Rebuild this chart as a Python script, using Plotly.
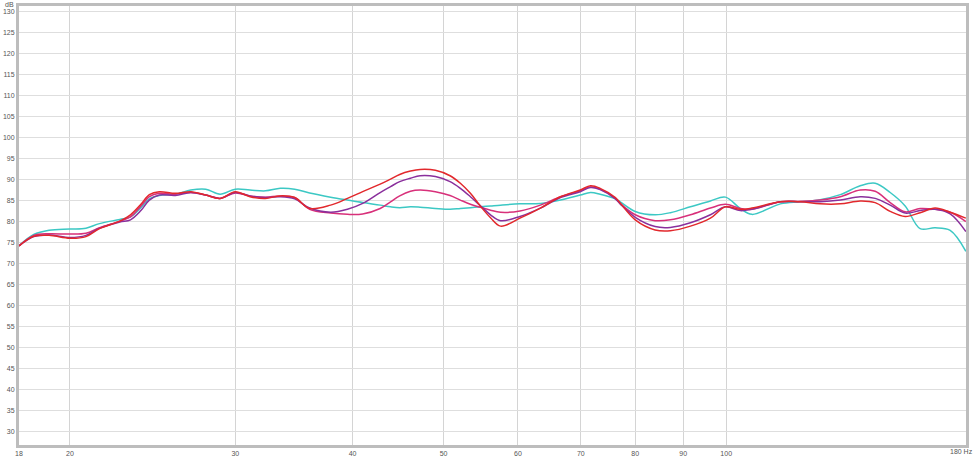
import plotly.graph_objects as go

freq = [17.65, 18.3, 19.0, 20.0, 20.8, 21.5, 22.6, 23.2, 23.8, 24.3, 24.9, 25.9, 26.9, 27.9, 28.9,
        30.0, 31.1, 32.3, 33.5, 34.7, 36.0, 37.9, 39.5, 41.0, 42.8, 43.9, 44.9, 46.1, 47.2, 49.0,
        50.8, 52.1, 53.4, 54.7, 56.1, 57.5, 60.3, 63.4, 66.6, 69.9, 71.7, 73.4, 76.2, 77.1, 80.0,
        84.0, 87.2, 91.6, 96.2, 99.8, 103.5, 106.5, 114.2, 119.9, 125.9, 132.3, 138.9, 144.1,
        149.5, 155.1, 160.9, 166.9, 173.2, 180.0]

cyan = [74.3, 77.0, 78.0, 78.3, 78.5, 79.6, 80.6, 81.2, 83.4, 85.5, 86.3, 86.6, 87.6, 87.8, 86.6,
        87.8, 87.6, 87.4, 88.0, 87.8, 86.9, 85.9, 85.2, 84.6, 84.0, 83.6, 83.4, 83.6, 83.5, 83.2,
        83.0, 83.2, 83.4, 83.6, 83.8, 84.0, 84.3, 84.4, 85.2, 86.4, 87.0, 86.6, 85.5, 84.8, 82.5,
        81.7, 82.2, 83.6, 85.0, 85.9, 83.2, 81.8, 84.3, 84.8, 85.3, 86.5, 88.6, 89.2,
        87.0, 83.8, 78.4, 78.6, 78.0, 73.0]

red = [74.3, 76.6, 76.8, 76.1, 76.5, 78.4, 80.2, 81.7, 84.2, 86.5, 87.2, 86.8, 87.2, 86.4, 85.6,
       87.2, 86.0, 85.6, 86.2, 85.8, 83.2, 84.0, 85.6, 87.2, 89.0, 90.2, 91.3, 92.1, 92.5, 92.3,
       91.0, 89.2, 86.8, 83.8, 81.0, 79.0, 80.9, 83.3, 86.0, 87.6, 88.6, 88.0, 85.8, 84.5, 80.5,
       78.1, 77.9, 79.0, 80.9, 83.6, 83.0, 83.3, 84.8, 84.8, 84.3, 84.3, 85.0, 84.6,
       82.5, 81.3, 82.2, 83.3, 82.3, 80.9]

purple = [74.3, 76.5, 76.9, 76.3, 76.8, 78.5, 80.0, 80.5, 82.7, 85.2, 86.4, 86.3, 87.0, 86.4, 85.6,
          87.0, 86.2, 85.8, 86.0, 85.5, 83.3, 82.3, 83.0, 84.4, 87.0, 88.4, 89.6, 90.4, 91.0, 90.8,
          89.6, 88.0, 86.0, 83.9, 81.7, 80.3, 81.3, 83.3, 85.8, 87.2, 88.2, 87.7, 85.5, 84.3, 81.1,
          78.9, 78.7, 79.8, 81.7, 83.6, 82.7, 83.0, 84.8, 84.8, 84.8, 85.2, 86.0, 85.6,
          84.0, 82.1, 82.7, 83.0, 81.9, 77.7]

pink = [74.3, 76.8, 77.2, 77.1, 77.3, 78.6, 80.2, 81.2, 83.8, 86.0, 86.8, 86.6, 87.0, 86.4, 85.6,
        86.9, 86.2, 85.9, 86.2, 85.8, 83.0, 82.1, 81.8, 81.9, 83.2, 84.8, 86.2, 87.3, 87.6, 87.2,
        86.3, 85.2, 84.2, 83.5, 82.8, 82.3, 82.6, 84.0, 86.0, 87.4, 88.3, 87.8, 85.6, 84.4, 81.7,
        80.3, 80.5, 81.7, 83.3, 84.2, 83.2, 83.0, 84.8, 84.9, 85.2, 86.0, 87.6, 87.3,
        84.6, 82.4, 83.2, 83.0, 82.3, 80.1]

x_ticks = [17.65, 20, 30, 40, 50, 60, 70, 80, 90, 100]
x_tick_text = ["18", "20", "30", "40", "50", "60", "70", "80", "90", "100"]
x_end_label = "180 Hz"
y_ticks = list(range(30, 131, 5))

series = [
    ("cyan", cyan, "#3cc8c4"),
    ("pink", pink, "#d8307a"),
    ("purple", purple, "#8a2f9c"),
    ("red", red, "#e2282c"),
]

fig = go.Figure()
for name, vals, col in series:
    fig.add_trace(go.Scatter(x=freq, y=vals, mode="lines", name=name,
                             line=dict(color=col, width=1.5, shape="spline", smoothing=1.0)))

fig.update_layout(
    width=975, height=456,
    margin=dict(l=19, r=9, t=6, b=11),
    paper_bgcolor="white", plot_bgcolor="white",
    showlegend=False,
    font=dict(family="Liberation Sans, Arial, sans-serif", size=7, color="#555555"),
)
fig.update_xaxes(
    type="log", range=[1.24674, 2.2554],
    tickvals=x_ticks, ticktext=x_tick_text,
    showgrid=True, gridcolor="#d4d4d4", gridwidth=1,
    showline=True, linecolor="#bdbdbd", linewidth=3, mirror=True,
    ticks="", zeroline=False, automargin=False,
    tickfont=dict(size=7, color="#555555"),
)
fig.update_yaxes(
    range=[26.9, 131.4],
    tickvals=y_ticks,
    showgrid=True, gridcolor="#dedede", gridwidth=1,
    showline=True, linecolor="#bdbdbd", linewidth=3, mirror=True,
    ticks="", zeroline=False, automargin=False,
    tickfont=dict(size=7, color="#555555"),
)
fig.add_annotation(text="dB", xref="paper", yref="paper", x=0, y=1, xanchor="right", yanchor="bottom",
                   xshift=-3, yshift=-4, showarrow=False, font=dict(size=7, color="#555555"))
fig.add_annotation(text=x_end_label, xref="paper", yref="paper", x=1, y=0, xanchor="right", yanchor="top",
                   xshift=9, yshift=-1, showarrow=False, font=dict(size=7, color="#555555"))

fig.write_html("out.html", config={"displayModeBar": False},
               post_script="document.body.style.margin='0';document.body.style.overflow='hidden';")
